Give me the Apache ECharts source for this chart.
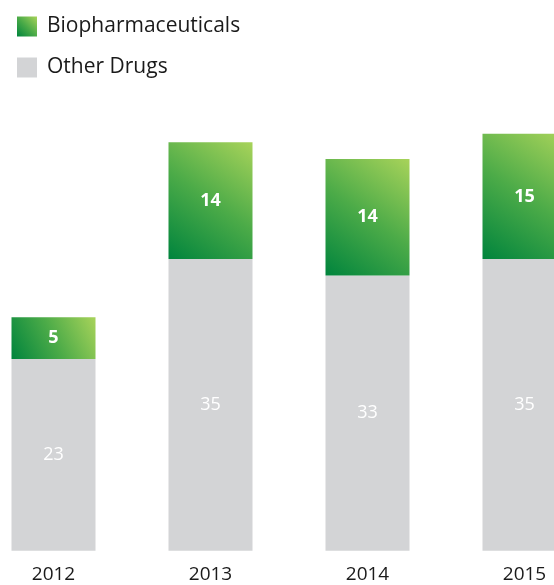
<!DOCTYPE html>
<html><head><meta charset="utf-8">
<script src="https://cdn.jsdelivr.net/npm/echarts@6/dist/echarts.min.js"></script>
<style>html,body{margin:0;padding:0;background:#fff}#c{width:554px;height:585px}</style>
</head><body><div id="c"></div>
<script>
const categories = ['2012', '2013', '2014', '2015'];
const otherDrugs = [23, 35, 33, 35];
const biopharma = [5, 14, 14, 15];
const seriesNames = ['Biopharmaceuticals', 'Other Drugs'];

const green = new echarts.graphic.LinearGradient(0, 1, 1, 0, [
  {offset: 0, color: '#00843d'},
  {offset: 0.5, color: '#4cab48'},
  {offset: 1, color: '#a8d35a'}
]);
const font = '"Open Sans", "Noto Sans", sans-serif';
const chart = echarts.init(document.getElementById('c'), null, {renderer: 'canvas'});
chart.setOption({
  animation: false,
  textStyle: {fontFamily: font},
  legend: {
    orient: 'vertical', left: 12, top: 11, itemWidth: 20, itemHeight: 20, itemGap: 20,
    icon: 'rect',
    data: [seriesNames[0], seriesNames[1]],
    textStyle: {fontSize: 21, lineHeight: 20, color: '#1a1a1a', fontFamily: font, padding: [0, 0, 0, 5]}
  },
  grid: {left: -25, width: 628, top: 50.5, height: 500.2, outerBoundsMode: 'none', containLabel: false},
  xAxis: {
    type: 'category', data: categories,
    axisLine: {show: false}, axisTick: {show: false},
    axisLabel: {fontSize: 19, color: '#1a1a1a', margin: 14, fontFamily: font}
  },
  yAxis: {type: 'value', min: 0, max: 60, show: false, splitLine: {show: false}},
  series: [
    {
      name: seriesNames[1], type: 'bar', stack: 'a', data: otherDrugs, barWidth: 84,
      itemStyle: {color: '#d3d4d6'},
      label: {show: true, position: 'inside', color: '#fff', fontSize: 18, fontFamily: font}
    },
    {
      name: seriesNames[0], type: 'bar', stack: 'a', data: biopharma, barWidth: 84,
      itemStyle: {color: green},
      label: {show: true, position: 'inside', color: '#fff', fontSize: 18, fontWeight: 'bold', fontFamily: font}
    }
  ]
});
</script></body></html>
